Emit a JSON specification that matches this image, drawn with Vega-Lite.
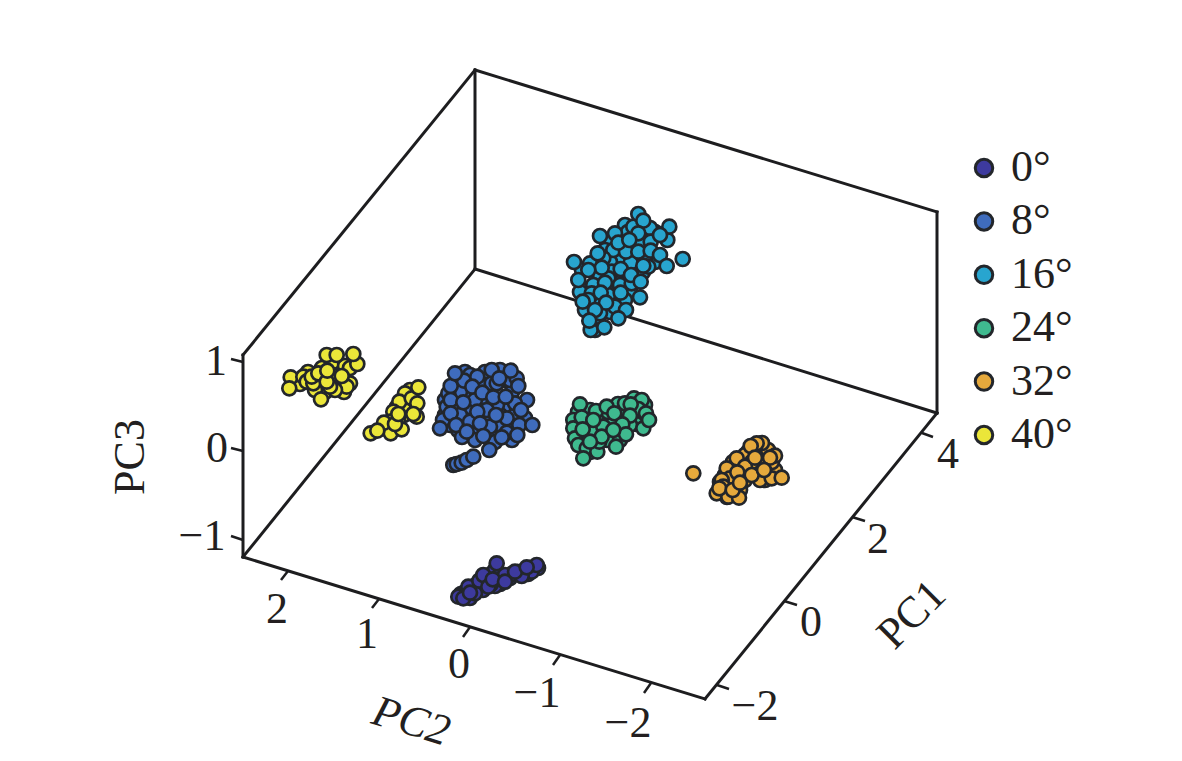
{"$schema":"https://vega.github.io/schema/vega-lite/v6.json","width":1182,"height":761,"padding":0,"autosize":{"type":"fit","contains":"padding"},"background":"white","config":{"view":{"stroke":null}},
"datasets":{
"edges":[{"edge":"a","u":475,"v":70},{"edge":"a","u":475,"v":269},{"edge":"b","u":243,"v":355},{"edge":"b","u":243,"v":557},{"edge":"c","u":243,"v":355},{"edge":"c","u":475,"v":70},{"edge":"d","u":243,"v":557},{"edge":"d","u":475,"v":269},{"edge":"e","u":475,"v":70},{"edge":"e","u":937,"v":212},{"edge":"f","u":475,"v":269},{"edge":"f","u":937,"v":413},{"edge":"g","u":937,"v":212},{"edge":"g","u":937,"v":413},{"edge":"h","u":243,"v":557},{"edge":"h","u":705,"v":699},{"edge":"i","u":705,"v":699},{"edge":"i","u":937,"v":413}],
"ticks":[{"t":"z1","u":243,"v":362},{"t":"z1","u":231,"v":359},{"t":"z0","u":243,"v":451},{"t":"z0","u":231,"v":448},{"t":"zm","u":243,"v":540},{"t":"zm","u":231,"v":536},{"t":"y2","u":288,"v":571},{"t":"y2","u":281,"v":580},{"t":"y1","u":379,"v":599},{"t":"y1","u":372,"v":608},{"t":"y0","u":470,"v":627},{"t":"y0","u":463,"v":637},{"t":"ym","u":560,"v":655},{"t":"ym","u":553,"v":665},{"t":"yn","u":651,"v":683},{"t":"yn","u":644,"v":693},{"t":"x4","u":922,"v":433},{"t":"x4","u":933,"v":437},{"t":"x2","u":852,"v":517},{"t":"x2","u":865,"v":521},{"t":"x0","u":784,"v":601},{"t":"x0","u":797,"v":605},{"t":"xm","u":717,"v":685},{"t":"xm","u":729,"v":689}],
"labels":[{"s":"1","u":216,"v":362},{"s":"0","u":217,"v":449},{"s":"−1","u":202,"v":537},{"s":"2","u":277,"v":610},{"s":"1","u":367,"v":635},{"s":"0","u":459,"v":665},{"s":"−1","u":537,"v":694},{"s":"−2","u":628,"v":724},{"s":"4","u":948,"v":455},{"s":"2","u":878,"v":540},{"s":"0","u":811,"v":623},{"s":"−2","u":755,"v":707}],
"points":[
{"g":"40°","u":298,"v":380},{"g":"40°","u":308,"v":372},{"g":"40°","u":318,"v":379},{"g":"40°","u":322,"v":368},{"g":"40°","u":333,"v":362},{"g":"40°","u":345,"v":366},{"g":"40°","u":339,"v":380},{"g":"40°","u":325,"v":392},{"g":"40°","u":300,"v":384},{"g":"40°","u":344,"v":392},{"g":"40°","u":315,"v":390},{"g":"40°","u":332,"v":375},{"g":"40°","u":350,"v":368},
{"g":"40°","u":410,"v":390},{"g":"40°","u":408,"v":405},{"g":"40°","u":404,"v":415},{"g":"40°","u":388,"v":428},{"g":"40°","u":398,"v":420},{"g":"40°","u":383,"v":428},{"g":"40°","u":412,"v":406},{"g":"40°","u":397,"v":407},{"g":"40°","u":406,"v":400},
{"g":"8°","u":445,"v":400},{"g":"8°","u":455,"v":385},{"g":"8°","u":465,"v":372},{"g":"8°","u":485,"v":372},{"g":"8°","u":505,"v":380},{"g":"8°","u":512,"v":392},{"g":"8°","u":505,"v":408},{"g":"8°","u":490,"v":400},{"g":"8°","u":480,"v":400},{"g":"8°","u":470,"v":410},{"g":"8°","u":465,"v":395},{"g":"8°","u":455,"v":408},{"g":"8°","u":445,"v":415},{"g":"8°","u":450,"v":425},{"g":"8°","u":465,"v":420},{"g":"8°","u":475,"v":430},{"g":"8°","u":490,"v":435},{"g":"8°","u":500,"v":415},{"g":"8°","u":510,"v":428},{"g":"8°","u":525,"v":418},{"g":"8°","u":515,"v":415},{"g":"8°","u":488,"v":385},{"g":"8°","u":470,"v":375},{"g":"8°","u":497,"v":405},{"g":"8°","u":458,"v":430},{"g":"8°","u":475,"v":440},{"g":"8°","u":495,"v":442},{"g":"8°","u":512,"v":440},{"g":"8°","u":500,"v":370},{"g":"8°","u":510,"v":380},{"g":"8°","u":527,"v":400},{"g":"8°","u":480,"v":383},{"g":"8°","u":443,"v":420},{"g":"8°","u":485,"v":420},{"g":"8°","u":462,"v":437},
{"g":"16°","u":625,"v":225},{"g":"16°","u":645,"v":228},{"g":"16°","u":655,"v":232},{"g":"16°","u":620,"v":258},{"g":"16°","u":610,"v":262},{"g":"16°","u":600,"v":275},{"g":"16°","u":585,"v":290},{"g":"16°","u":595,"v":298},{"g":"16°","u":610,"v":290},{"g":"16°","u":630,"v":292},{"g":"16°","u":612,"v":300},{"g":"16°","u":590,"v":312},{"g":"16°","u":598,"v":320},{"g":"16°","u":610,"v":312},{"g":"16°","u":640,"v":245},{"g":"16°","u":655,"v":262},{"g":"16°","u":635,"v":262},{"g":"16°","u":595,"v":262},{"g":"16°","u":615,"v":280},{"g":"16°","u":625,"v":300},{"g":"16°","u":582,"v":270},{"g":"16°","u":650,"v":228},{"g":"16°","u":595,"v":330},{"g":"16°","u":585,"v":310},{"g":"16°","u":600,"v":305},{"g":"16°","u":610,"v":240},{"g":"16°","u":625,"v":270},{"g":"16°","u":605,"v":250},{"g":"16°","u":643,"v":272},{"g":"16°","u":628,"v":232},{"g":"16°","u":580,"v":292},
{"g":"24°","u":578,"v":412},{"g":"24°","u":590,"v":410},{"g":"24°","u":600,"v":420},{"g":"24°","u":610,"v":420},{"g":"24°","u":620,"v":410},{"g":"24°","u":632,"v":410},{"g":"24°","u":640,"v":418},{"g":"24°","u":645,"v":405},{"g":"24°","u":585,"v":437},{"g":"24°","u":596,"v":445},{"g":"24°","u":588,"v":425},{"g":"24°","u":607,"v":440},{"g":"24°","u":620,"v":440},{"g":"24°","u":636,"v":424},{"g":"24°","u":608,"v":412},{"g":"24°","u":576,"v":432},{"g":"24°","u":590,"v":452},{"g":"24°","u":618,"v":404},{"g":"24°","u":600,"v":430},{"g":"24°","u":630,"v":425},
{"g":"32°","u":748,"v":452},{"g":"32°","u":760,"v":450},{"g":"32°","u":768,"v":450},{"g":"32°","u":745,"v":455},{"g":"32°","u":738,"v":465},{"g":"32°","u":730,"v":470},{"g":"32°","u":725,"v":475},{"g":"32°","u":735,"v":480},{"g":"32°","u":745,"v":480},{"g":"32°","u":755,"v":468},{"g":"32°","u":765,"v":462},{"g":"32°","u":775,"v":470},{"g":"32°","u":765,"v":480},{"g":"32°","u":722,"v":492},{"g":"32°","u":730,"v":485},{"g":"32°","u":735,"v":495},{"g":"32°","u":742,"v":475},{"g":"32°","u":758,"v":474},{"g":"32°","u":752,"v":462},{"g":"32°","u":740,"v":490},{"g":"32°","u":727,"v":497},{"g":"32°","u":720,"v":482},{"g":"32°","u":762,"v":443},{"g":"32°","u":772,"v":462},{"g":"32°","u":733,"v":462},
{"g":"0°","u":461,"v":594},{"g":"0°","u":465,"v":592},{"g":"0°","u":472,"v":588},{"g":"0°","u":476,"v":585},{"g":"0°","u":481,"v":583},{"g":"0°","u":486,"v":579},{"g":"0°","u":490,"v":575},{"g":"0°","u":495,"v":570},{"g":"0°","u":500,"v":575},{"g":"0°","u":500,"v":584},{"g":"0°","u":510,"v":578},{"g":"0°","u":518,"v":572},{"g":"0°","u":525,"v":570},{"g":"0°","u":530,"v":568},{"g":"0°","u":534,"v":568},{"g":"0°","u":512,"v":574},{"g":"0°","u":495,"v":586},{"g":"0°","u":478,"v":590},{"g":"0°","u":483,"v":590},{"g":"0°","u":466,"v":597},{"g":"0°","u":470,"v":598},{"g":"0°","u":538,"v":568},{"g":"0°","u":528,"v":574},{"g":"0°","u":505,"v":575},{"g":"0°","u":491,"v":584},
{"g":"40°","u":326.7,"v":355},{"g":"40°","u":357.3,"v":364},{"g":"40°","u":336.7,"v":355},{"g":"40°","u":353.3,"v":354},{"g":"40°","u":290.7,"v":377.3},{"g":"40°","u":350,"v":383.3},{"g":"40°","u":346.7,"v":386.7},{"g":"40°","u":335,"v":390},{"g":"40°","u":330,"v":386.7},{"g":"40°","u":303.3,"v":376.7},{"g":"40°","u":306.7,"v":381.7},{"g":"40°","u":313.3,"v":383.3},{"g":"40°","u":311.7,"v":376.7},{"g":"40°","u":318.3,"v":373.3},{"g":"40°","u":326.7,"v":381.7},{"g":"40°","u":289.3,"v":388.3},{"g":"40°","u":341.7,"v":376},{"g":"40°","u":327.3,"v":370.7},{"g":"40°","u":321,"v":399.3},
{"g":"40°","u":405,"v":393.3},{"g":"40°","u":403.3,"v":406.7},{"g":"40°","u":399.3,"v":401.7},{"g":"40°","u":393.3,"v":411.7},{"g":"40°","u":390,"v":421.7},{"g":"40°","u":416.7,"v":416.7},{"g":"40°","u":370.7,"v":433.3},{"g":"40°","u":390.7,"v":433.3},{"g":"40°","u":401.7,"v":429.3},{"g":"40°","u":384,"v":422.7},{"g":"40°","u":377.3,"v":430.7},{"g":"40°","u":395,"v":424},{"g":"40°","u":411.7,"v":398.3},{"g":"40°","u":418.3,"v":387.3},{"g":"40°","u":417.3,"v":403.3},{"g":"40°","u":398.3,"v":414},{"g":"40°","u":413.3,"v":414},
{"g":"8°","u":491.7,"v":383.3},{"g":"8°","u":496.7,"v":383.3},{"g":"8°","u":516.7,"v":378.3},{"g":"8°","u":460,"v":391.7},{"g":"8°","u":475,"v":400},{"g":"8°","u":446.7,"v":406.7},{"g":"8°","u":460,"v":415},{"g":"8°","u":486.7,"v":410},{"g":"8°","u":470,"v":421.7},{"g":"8°","u":500,"v":425},{"g":"8°","u":490,"v":426.7},{"g":"8°","u":515,"v":403.3},{"g":"8°","u":506.7,"v":418.3},{"g":"8°","u":448.3,"v":393.3},{"g":"8°","u":450.7,"v":386},{"g":"8°","u":464,"v":380.7},{"g":"8°","u":491.7,"v":370},{"g":"8°","u":510.7,"v":370.7},{"g":"8°","u":453.3,"v":465},{"g":"8°","u":456.7,"v":464},{"g":"8°","u":461.7,"v":462.7},{"g":"8°","u":466.7,"v":460},{"g":"8°","u":473.3,"v":456.7},{"g":"8°","u":455,"v":373.3},{"g":"8°","u":477.3,"v":376.7},{"g":"8°","u":499.3,"v":378.3},{"g":"8°","u":518.3,"v":386},{"g":"8°","u":472.3,"v":386.7},{"g":"8°","u":482.3,"v":392.7},{"g":"8°","u":450.7,"v":400},{"g":"8°","u":463.3,"v":402.3},{"g":"8°","u":493.3,"v":397.3},{"g":"8°","u":505.7,"v":396.7},{"g":"8°","u":521,"v":410},{"g":"8°","u":477.3,"v":411.7},{"g":"8°","u":496,"v":415},{"g":"8°","u":450.7,"v":413.3},{"g":"8°","u":456,"v":425},{"g":"8°","u":440,"v":428.3},{"g":"8°","u":480,"v":423.3},{"g":"8°","u":466.7,"v":431.7},{"g":"8°","u":483.3,"v":436},{"g":"8°","u":506.7,"v":432.7},{"g":"8°","u":519.3,"v":425},{"g":"8°","u":532.3,"v":425},{"g":"8°","u":517.3,"v":435},{"g":"8°","u":501.7,"v":437.3},{"g":"8°","u":489.3,"v":450},
{"g":"16°","u":633.3,"v":226.7},{"g":"16°","u":613.3,"v":250},{"g":"16°","u":603.3,"v":258.3},{"g":"16°","u":590,"v":263.3},{"g":"16°","u":645,"v":260},{"g":"16°","u":648.3,"v":266.7},{"g":"16°","u":611.7,"v":271.7},{"g":"16°","u":608.3,"v":278.3},{"g":"16°","u":593.3,"v":285},{"g":"16°","u":620,"v":285},{"g":"16°","u":591.7,"v":293.3},{"g":"16°","u":608.3,"v":295},{"g":"16°","u":588.3,"v":300},{"g":"16°","u":615,"v":306.7},{"g":"16°","u":630.7,"v":262.7},{"g":"16°","u":626,"v":251.7},{"g":"16°","u":650.7,"v":241.7},{"g":"16°","u":667.3,"v":240},{"g":"16°","u":600,"v":313.3},{"g":"16°","u":590.7,"v":330},{"g":"16°","u":597.7,"v":253.3},{"g":"16°","u":638.3,"v":214},{"g":"16°","u":643.3,"v":220.7},{"g":"16°","u":669.3,"v":226.7},{"g":"16°","u":600,"v":236},{"g":"16°","u":615,"v":233.3},{"g":"16°","u":638.3,"v":233.3},{"g":"16°","u":660,"v":235},{"g":"16°","u":618.3,"v":242.7},{"g":"16°","u":629.3,"v":240},{"g":"16°","u":638.3,"v":251.7},{"g":"16°","u":650.7,"v":250.7},{"g":"16°","u":660,"v":255},{"g":"16°","u":682.7,"v":259},{"g":"16°","u":666.7,"v":266},{"g":"16°","u":574,"v":262},{"g":"16°","u":601.7,"v":267.7},{"g":"16°","u":588.3,"v":270},{"g":"16°","u":620.7,"v":269},{"g":"16°","u":643.3,"v":265.7},{"g":"16°","u":631.7,"v":283.3},{"g":"16°","u":631,"v":275},{"g":"16°","u":578.3,"v":280},{"g":"16°","u":605,"v":282.7},{"g":"16°","u":640.7,"v":281.7},{"g":"16°","u":600.7,"v":292.7},{"g":"16°","u":620.7,"v":292.7},{"g":"16°","u":640,"v":297.3},{"g":"16°","u":582.7,"v":301.7},{"g":"16°","u":606,"v":302.7},{"g":"16°","u":626,"v":310},{"g":"16°","u":595,"v":310},{"g":"16°","u":589.3,"v":320.7},{"g":"16°","u":618.3,"v":318.3},{"g":"16°","u":604.3,"v":327.3},
{"g":"24°","u":573.3,"v":420},{"g":"24°","u":573.3,"v":428.3},{"g":"24°","u":575,"v":438.3},{"g":"24°","u":578.3,"v":445},{"g":"24°","u":586.7,"v":448.3},{"g":"24°","u":597.3,"v":451.7},{"g":"24°","u":599.3,"v":441.7},{"g":"24°","u":593.3,"v":431.7},{"g":"24°","u":603.3,"v":426.7},{"g":"24°","u":601.7,"v":436.7},{"g":"24°","u":596,"v":411},{"g":"24°","u":606.7,"v":406.7},{"g":"24°","u":625,"v":403.3},{"g":"24°","u":634,"v":398.3},{"g":"24°","u":641.7,"v":400},{"g":"24°","u":638.3,"v":409},{"g":"24°","u":646,"v":413.3},{"g":"24°","u":643.3,"v":428.3},{"g":"24°","u":580,"v":404.3},{"g":"24°","u":581.7,"v":417.3},{"g":"24°","u":593.3,"v":420},{"g":"24°","u":630.7,"v":404.3},{"g":"24°","u":649,"v":420},{"g":"24°","u":614.3,"v":413.3},{"g":"24°","u":630,"v":415.7},{"g":"24°","u":622.3,"v":424.3},{"g":"24°","u":626,"v":434.3},{"g":"24°","u":613.3,"v":430},{"g":"24°","u":582.7,"v":429.3},{"g":"24°","u":590,"v":441.7},{"g":"24°","u":583.3,"v":458.3},{"g":"24°","u":616,"v":446.7},
{"g":"32°","u":693.3,"v":473.3},{"g":"32°","u":756.7,"v":443.3},{"g":"32°","u":750.7,"v":446},{"g":"32°","u":775,"v":455.7},{"g":"32°","u":736.7,"v":458.3},{"g":"32°","u":726.7,"v":468.3},{"g":"32°","u":730,"v":478.3},{"g":"32°","u":760,"v":480},{"g":"32°","u":721.7,"v":480},{"g":"32°","u":723.3,"v":486.7},{"g":"32°","u":716.7,"v":493.3},{"g":"32°","u":728.3,"v":496.7},{"g":"32°","u":745,"v":466.7},{"g":"32°","u":771.7,"v":478.3},{"g":"32°","u":751.7,"v":475},{"g":"32°","u":719.3,"v":488.3},{"g":"32°","u":739,"v":497.7},{"g":"32°","u":732.7,"v":490},{"g":"32°","u":737.3,"v":472.3},{"g":"32°","u":770,"v":457.7},{"g":"32°","u":755,"v":457.7},{"g":"32°","u":764,"v":470},{"g":"32°","u":781.7,"v":477.7},{"g":"32°","u":740,"v":482.7},
{"g":"0°","u":458.3,"v":596.7},{"g":"0°","u":463.3,"v":598.3},{"g":"0°","u":475,"v":593.3},{"g":"0°","u":468.3,"v":586.7},{"g":"0°","u":479.3,"v":580.7},{"g":"0°","u":483.3,"v":575},{"g":"0°","u":488.3,"v":586.7},{"g":"0°","u":531.7,"v":571.7},{"g":"0°","u":536.7,"v":565},{"g":"0°","u":521.7,"v":576},{"g":"0°","u":470,"v":592.7},{"g":"0°","u":496.7,"v":563.3},{"g":"0°","u":492.7,"v":579.3},{"g":"0°","u":505,"v":581.7},{"g":"0°","u":515,"v":571.7},{"g":"0°","u":526.7,"v":567.3}
]},
"layer":[
{"data":{"name":"edges"},"mark":{"type":"line","color":"#1d1d1f","strokeWidth":3,"strokeCap":"square"},"encoding":{"x":{"field":"u","type":"quantitative","scale":{"domain":[0,1182]},"axis":null},"y":{"field":"v","type":"quantitative","scale":{"domain":[761,0]},"axis":null},"detail":{"field":"edge"}}},
{"data":{"name":"ticks"},"mark":{"type":"line","color":"#1d1d1f","strokeWidth":2.5},"encoding":{"x":{"field":"u","type":"quantitative","scale":{"domain":[0,1182]},"axis":null},"y":{"field":"v","type":"quantitative","scale":{"domain":[761,0]},"axis":null},"detail":{"field":"t"}}},
{"data":{"name":"points"},"mark":{"type":"point","shape":"circle","filled":true,"opacity":1,"size":196,"stroke":"#23262b","strokeWidth":2.7},"encoding":{"x":{"field":"u","type":"quantitative","scale":{"domain":[0,1182]},"axis":null},"y":{"field":"v","type":"quantitative","scale":{"domain":[761,0]},"axis":null},"color":{"field":"g","type":"nominal","scale":{"domain":["0°","8°","16°","24°","32°","40°"],"range":["#3d3a9e","#3f6cbd","#28a5cf","#3fba8f","#e6a93c","#ebe639"]},"legend":{"orient":"none","legendX":962,"legendY":146,"title":null,"symbolSize":306,"symbolType":"circle","symbolStrokeColor":"#23262b","symbolStrokeWidth":3,"symbolOpacity":1,"labelFont":"Liberation Serif","labelFontSize":44,"labelColor":"#231f20","labelOffset":5,"rowPadding":9.4,"labelLimit":200}}}},
{"data":{"name":"labels"},"mark":{"type":"text","font":"Liberation Serif","fontSize":44,"color":"#231f20","align":"center","baseline":"middle"},"encoding":{"x":{"field":"u","type":"quantitative","scale":{"domain":[0,1182]},"axis":null},"y":{"field":"v","type":"quantitative","scale":{"domain":[761,0]},"axis":null},"text":{"field":"s"}}},
{"data":{"values":[{"s":"PC3","u":131,"v":457}]},"mark":{"type":"text","font":"Liberation Serif","fontSize":44,"color":"#231f20","align":"center","baseline":"middle","angle":270},"encoding":{"x":{"field":"u","type":"quantitative","scale":{"domain":[0,1182]},"axis":null},"y":{"field":"v","type":"quantitative","scale":{"domain":[761,0]},"axis":null},"text":{"field":"s"}}},
{"data":{"values":[{"s":"PC1","u":912,"v":615}]},"mark":{"type":"text","font":"Liberation Serif","fontSize":44,"color":"#231f20","align":"center","baseline":"middle","angle":315},"encoding":{"x":{"field":"u","type":"quantitative","scale":{"domain":[0,1182]},"axis":null},"y":{"field":"v","type":"quantitative","scale":{"domain":[761,0]},"axis":null},"text":{"field":"s"}}},
{"data":{"values":[{"s":"PC2","u":411,"v":722}]},"mark":{"type":"text","font":"Liberation Serif","fontSize":44,"fontStyle":"italic","color":"#231f20","align":"center","baseline":"middle","angle":17},"encoding":{"x":{"field":"u","type":"quantitative","scale":{"domain":[0,1182]},"axis":null},"y":{"field":"v","type":"quantitative","scale":{"domain":[761,0]},"axis":null},"text":{"field":"s"}}}
]}
